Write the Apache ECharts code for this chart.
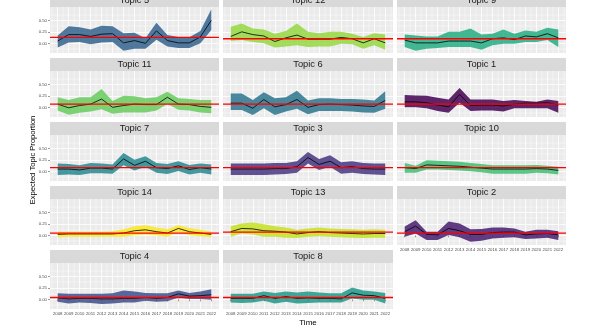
<!DOCTYPE html>
<html><head><meta charset="utf-8">
<script src="https://cdn.jsdelivr.net/npm/echarts@6/dist/echarts.min.js"></script>
<style>html,body{margin:0;padding:0;background:#fff}#c{width:603px;height:330px}</style>
</head><body><div id="c"></div><script>
const years = [2008,2009,2010,2011,2012,2013,2014,2015,2016,2017,2018,2019,2020,2021,2022];
const xMinorTicks = [2007.5,2008.5,2009.5,2010.5,2011.5,2012.5,2013.5,2014.5,2015.5,2016.5,2017.5,2018.5,2019.5,2020.5,2021.5,2022.5];
const yTicks = [0, 0.25, 0.5];
const yMinorTicks = [-0.125, 0.125, 0.375, 0.625];
const panelOrder = ['Topic 5','Topic 12','Topic 9','Topic 11','Topic 6','Topic 1','Topic 7','Topic 3','Topic 10','Topic 14','Topic 13','Topic 2','Topic 4','Topic 8'];
const topicColors = ['#440154','#481C6E','#453581','#3D4D8A','#34618D','#2B748E','#24878E','#1F998A','#25AC82','#40BD72','#67CC5C','#95D840','#C6E021','#FDE725'];

const topic5Mean  = [0.05,0.19,0.19,0.15,0.20,0.21,0.01,0.06,0.00,0.27,0.06,0.01,0.01,0.14,0.50];
const topic5Upper = [0.17,0.37,0.35,0.30,0.38,0.37,0.22,0.23,0.11,0.45,0.18,0.14,0.13,0.27,0.74];
const topic5Lower = [-0.09,0.02,0.03,-0.02,0.02,0.03,-0.16,-0.12,-0.12,0.08,-0.07,-0.10,-0.10,0.00,0.29];
const topic12Mean  = [0.15,0.25,0.19,0.16,0.04,0.12,0.18,0.09,0.09,0.09,0.13,0.10,0.01,0.10,0.01];
const topic12Upper = [0.36,0.43,0.32,0.30,0.21,0.27,0.43,0.25,0.22,0.25,0.25,0.21,0.14,0.22,0.19];
const topic12Lower = [0.05,0.07,0.03,0.00,-0.09,-0.07,-0.04,-0.08,-0.07,-0.07,-0.01,-0.02,-0.12,-0.04,-0.14];
const topic9Mean  = [0.07,0.01,0.01,0.01,0.05,0.05,0.05,0.01,0.10,0.12,0.08,0.16,0.14,0.21,0.12];
const topic9Upper = [0.19,0.17,0.15,0.15,0.25,0.25,0.32,0.19,0.21,0.30,0.21,0.28,0.25,0.34,0.30];
const topic9Lower = [-0.08,-0.16,-0.12,-0.10,-0.08,-0.08,-0.08,-0.14,-0.04,-0.01,-0.01,0.03,0.03,0.07,-0.08];
const topic11Mean  = [0.07,-0.01,0.04,0.07,0.18,0.00,0.04,0.07,0.06,0.06,0.22,0.07,0.06,0.02,0.00];
const topic11Upper = [0.22,0.16,0.22,0.22,0.40,0.14,0.25,0.24,0.20,0.22,0.34,0.20,0.18,0.16,0.16];
const topic11Lower = [-0.07,-0.16,-0.12,-0.09,-0.04,-0.14,-0.11,-0.11,-0.11,-0.07,0.07,-0.05,-0.07,-0.11,-0.13];
const topic6Mean  = [0.09,0.09,-0.02,0.17,0.01,0.06,0.17,0.00,0.06,0.07,0.06,0.05,0.03,0.02,0.15];
const topic6Upper = [0.30,0.30,0.16,0.33,0.20,0.22,0.36,0.15,0.20,0.20,0.18,0.18,0.17,0.15,0.35];
const topic6Lower = [-0.06,-0.06,-0.165,-0.02,-0.165,-0.09,-0.03,-0.15,-0.08,-0.08,-0.08,-0.09,-0.11,-0.12,-0.03];
const topic1Mean  = [0.12,0.12,0.10,0.05,0.01,0.28,0.04,0.05,0.05,0.03,0.07,0.09,0.09,0.10,0.05];
const topic1Upper = [0.27,0.26,0.25,0.21,0.17,0.42,0.17,0.17,0.17,0.14,0.16,0.14,0.12,0.17,0.14];
const topic1Lower = [0.00,0.00,-0.02,-0.08,-0.12,0.10,-0.08,-0.07,-0.07,-0.09,-0.02,-0.02,-0.02,-0.02,-0.12];
const topic7Mean  = [0.05,0.05,0.03,0.07,0.07,0.05,0.27,0.13,0.22,0.08,0.06,0.12,0.04,0.08,0.05];
const topic7Upper = [0.17,0.16,0.13,0.18,0.17,0.15,0.40,0.25,0.33,0.18,0.16,0.22,0.14,0.17,0.15];
const topic7Lower = [-0.08,-0.07,-0.08,-0.04,-0.04,-0.05,0.13,0.02,0.10,-0.03,-0.06,0.01,-0.07,-0.03,-0.07];
const topic3Mean  = [0.05,0.05,0.05,0.05,0.06,0.06,0.10,0.30,0.15,0.22,0.08,0.10,0.06,0.05,0.05];
const topic3Upper = [0.17,0.17,0.17,0.17,0.18,0.18,0.22,0.42,0.27,0.35,0.20,0.22,0.18,0.17,0.17];
const topic3Lower = [-0.08,-0.08,-0.08,-0.08,-0.07,-0.06,-0.03,0.17,0.03,0.10,-0.05,-0.03,-0.06,-0.07,-0.08];
const topic10Mean  = [0.08,0.06,0.14,0.13,0.12,0.11,0.09,0.07,0.05,0.05,0.05,0.05,0.06,0.05,0.02];
const topic10Upper = [0.18,0.12,0.24,0.23,0.22,0.21,0.18,0.16,0.13,0.13,0.13,0.13,0.14,0.12,0.10];
const topic10Lower = [-0.03,-0.03,0.04,0.04,0.03,0.02,0.00,-0.02,-0.05,-0.05,-0.05,-0.05,-0.03,-0.04,-0.07];
const topic14Mean  = [0.02,0.03,0.03,0.03,0.03,0.03,0.05,0.10,0.12,0.08,0.05,0.15,0.08,0.05,0.02];
const topic14Upper = [0.08,0.08,0.08,0.08,0.08,0.09,0.13,0.20,0.22,0.17,0.13,0.22,0.16,0.12,0.08];
const topic14Lower = [-0.04,-0.03,-0.03,-0.03,-0.03,-0.03,-0.03,0.00,0.02,0.00,-0.03,0.07,0.00,-0.02,-0.04];
const topic13Mean  = [0.08,0.15,0.14,0.10,0.09,0.07,0.03,0.06,0.08,0.06,0.05,0.04,0.03,0.04,0.04];
const topic13Upper = [0.20,0.26,0.28,0.24,0.20,0.17,0.12,0.15,0.17,0.15,0.14,0.13,0.12,0.13,0.12];
const topic13Lower = [-0.03,0.04,0.02,-0.03,-0.03,-0.05,-0.06,-0.03,-0.02,-0.03,-0.04,-0.05,-0.06,-0.05,-0.05];
const topic2Mean  = [0.08,0.20,0.02,0.01,0.15,0.10,0.02,0.02,0.06,0.07,0.07,0.01,0.03,0.04,0.01];
const topic2Upper = [0.19,0.33,0.08,0.08,0.30,0.26,0.13,0.14,0.17,0.17,0.15,0.08,0.12,0.12,0.09];
const topic2Lower = [-0.03,0.04,-0.10,-0.10,0.01,-0.04,-0.14,-0.12,-0.07,-0.05,-0.04,-0.08,-0.07,-0.05,-0.10];
const topic4Mean  = [0.03,0.01,0.02,0.02,0.01,0.01,0.02,0.02,0.04,0.02,0.04,0.12,0.07,0.08,0.10];
const topic4Upper = [0.13,0.12,0.12,0.12,0.12,0.13,0.19,0.17,0.14,0.13,0.13,0.19,0.14,0.17,0.22];
const topic4Lower = [-0.05,-0.09,-0.07,-0.08,-0.10,-0.09,-0.07,-0.07,-0.03,-0.05,-0.04,0.04,0.01,0.01,-0.01];
const topic8Mean  = [0.02,0.02,0.02,0.08,0.02,0.06,0.02,0.03,0.02,0.02,0.01,0.14,0.09,0.08,0.02];
const topic8Upper = [0.12,0.12,0.12,0.17,0.14,0.17,0.15,0.17,0.15,0.13,0.13,0.26,0.19,0.17,0.14];
const topic8Lower = [-0.07,-0.08,-0.07,-0.03,-0.09,-0.05,-0.09,-0.08,-0.07,-0.07,-0.07,0.02,-0.01,-0.01,-0.09];
// red reference line per topic (topic 1..14)
const redLineValues = [0.07,0.05,0.08,0.04,0.13,0.07,0.08,0.04,0.10,0.08,0.07,0.10,0.07,0.05];

const topicSeries = {
  'Topic 1':[topic1Mean,topic1Lower,topic1Upper], 'Topic 2':[topic2Mean,topic2Lower,topic2Upper],
  'Topic 3':[topic3Mean,topic3Lower,topic3Upper], 'Topic 4':[topic4Mean,topic4Lower,topic4Upper],
  'Topic 5':[topic5Mean,topic5Lower,topic5Upper], 'Topic 6':[topic6Mean,topic6Lower,topic6Upper],
  'Topic 7':[topic7Mean,topic7Lower,topic7Upper], 'Topic 8':[topic8Mean,topic8Lower,topic8Upper],
  'Topic 9':[topic9Mean,topic9Lower,topic9Upper], 'Topic 10':[topic10Mean,topic10Lower,topic10Upper],
  'Topic 11':[topic11Mean,topic11Lower,topic11Upper], 'Topic 12':[topic12Mean,topic12Lower,topic12Upper],
  'Topic 13':[topic13Mean,topic13Lower,topic13Upper], 'Topic 14':[topic14Mean,topic14Lower,topic14Upper]
};

const colLeft = [50, 223, 397];
const colWidth = [169, 170, 169];
const rowTop0 = 7, rowPitch = 64, panelH = 46, stripH = 13;
const Y_MIN = -0.21, Y_MAX = 0.79, X_MIN = 2007.3, X_MAX = 2022.7;
const FONT = 'Liberation Sans, Arial, sans-serif';

const grids = [], xAxes = [], yAxes = [], series = [], graphics = [];
const bottomPanels = ['Topic 4', 'Topic 8', 'Topic 2'];

panelOrder.forEach((name, i) => {
  const r = Math.floor(i / 3), c = i % 3;
  const left = colLeft[c], top = rowTop0 + r * rowPitch, w = colWidth[c];
  const num = parseInt(name.split(' ')[1]);
  const color = topicColors[num - 1];
  const [mean, lower, upper] = topicSeries[name];
  const showX = bottomPanels.includes(name);
  const showY = c === 0;
  grids.push({left, top, width: w, height: panelH, show: true, backgroundColor: '#EBEBEB', borderWidth: 0, containLabel: false});
  xAxes.push({gridIndex: i, type: 'value', min: X_MIN, max: X_MAX, z: 1,
    axisLine: {show: false},
    axisTick: {show: showX, customValues: years, length: 2, lineStyle: {color: '#333333', width: 0.5}},
    axisLabel: {show: showX, customValues: years, fontSize: 4.3, color: '#4D4D4D', margin: 3, fontFamily: FONT, formatter: v => String(v)},
    splitLine: {show: true, lineStyle: {color: '#FFFFFF', width: 0.8}}});
  xAxes.push({gridIndex: i, type: 'value', min: X_MIN, max: X_MAX, position: 'top', z: 0,
    axisLine: {show: false}, axisTick: {show: false, customValues: xMinorTicks},
    axisLabel: {show: false, customValues: xMinorTicks},
    splitLine: {show: true, lineStyle: {color: '#FFFFFF', width: 0.4}}});
  yAxes.push({gridIndex: i, type: 'value', min: Y_MIN, max: Y_MAX, z: 1,
    axisLine: {show: false},
    axisTick: {show: showY, customValues: yTicks, length: 2, lineStyle: {color: '#333333', width: 0.5}},
    axisLabel: {show: showY, customValues: yTicks, fontSize: 4.3, color: '#4D4D4D', margin: 3, fontFamily: FONT, formatter: v => v.toFixed(2)},
    splitLine: {show: true, lineStyle: {color: '#FFFFFF', width: 0.8}}});
  yAxes.push({gridIndex: i, type: 'value', min: Y_MIN, max: Y_MAX, position: 'right', z: 0,
    axisLine: {show: false}, axisTick: {show: false, customValues: yMinorTicks},
    axisLabel: {show: false, customValues: yMinorTicks},
    splitLine: {show: true, lineStyle: {color: '#FFFFFF', width: 0.4}}});
  series.push({
    type: 'custom', xAxisIndex: 2 * i, yAxisIndex: 2 * i, silent: true, z: 2,
    data: years.map((y, k) => [y, lower[k], upper[k]]),
    encode: {x: 0, y: [1, 2]},
    renderItem: (params, api) => {
      if (params.dataIndexInside !== 0) return;
      const n = params.dataInsideLength, pts = [];
      for (let k = 0; k < n; k++) pts.push(api.coord([api.value(0, k), api.value(2, k)]));
      for (let k = n - 1; k >= 0; k--) pts.push(api.coord([api.value(0, k), api.value(1, k)]));
      return {type: 'polygon', shape: {points: pts}, style: {fill: color, opacity: 0.85}};
    }
  });
  series.push({
    type: 'line', xAxisIndex: 2 * i, yAxisIndex: 2 * i, z: 3, silent: true,
    data: years.map((y, k) => [y, mean[k]]),
    symbol: 'none', lineStyle: {color: '#000000', width: 0.8}
  });
  // red horizontal reference line across the panel
  series.push({
    type: 'line', xAxisIndex: 2 * i, yAxisIndex: 2 * i, z: 4, silent: true,
    data: [[X_MIN, redLineValues[num - 1]], [X_MAX, redLineValues[num - 1]]],
    symbol: 'none', lineStyle: {color: '#FF0000', width: 1.3}
  });
  graphics.push({type: 'rect', shape: {x: left, y: top - stripH, width: w, height: stripH}, style: {fill: '#D9D9D9'}, silent: true});
  graphics.push({type: 'text', x: left + w / 2, y: top - stripH / 2, silent: true,
    style: {text: name, fill: '#1A1A1A', font: '9.3px ' + FONT, align: 'center', verticalAlign: 'middle'}});
});

graphics.push({type: 'text', x: 33, y: 160, rotation: Math.PI / 2, silent: true,
  style: {text: 'Expected Topic Proportion', fill: '#000000', font: '7.6px ' + FONT, align: 'center', verticalAlign: 'middle'}});
graphics.push({type: 'text', x: 308, y: 323, silent: true,
  style: {text: 'Time', fill: '#000000', font: '8px ' + FONT, align: 'center', verticalAlign: 'middle'}});

const chart = echarts.init(document.getElementById('c'), null, {renderer: 'canvas'});
chart.setOption({animation: false, backgroundColor: '#FFFFFF', grid: grids, xAxis: xAxes, yAxis: yAxes, series, graphic: graphics});
</script></body></html>
